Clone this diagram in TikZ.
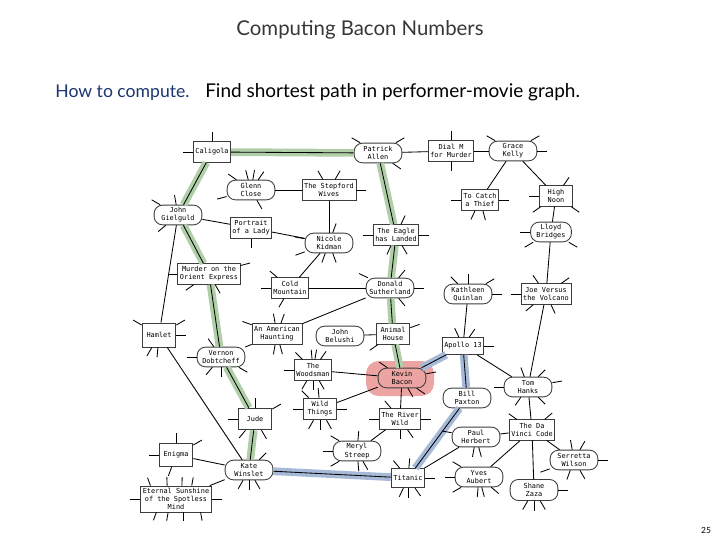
\documentclass[tikz,border=0pt]{standalone}
\usepackage{fontspec}
\newfontfamily\headfont{Lato}
\newfontfamily\boxfont{DejaVu Sans Mono}
\definecolor{pathgreen}{RGB}{176,206,168}
\definecolor{pathblue}{RGB}{166,186,216}
\definecolor{halopink}{RGB}{236,164,162}
\definecolor{boxgray}{RGB}{60,60,60}
\definecolor{titlegray}{RGB}{55,55,55}
\definecolor{hownavy}{RGB}{28,52,112}
\newcommand{\stubs}[2]{\foreach \a in {#2}{\draw[stub] (#1.\a) -- ++(\a:7pt);}}

\begin{document}
\begin{tikzpicture}[x=0.025cm, y=-0.025cm, line width=0.6pt,
  movie/.style={draw=boxgray, fill=white, line width=0.6pt, align=center, inner xsep=1.5pt, inner ysep=1.5pt,
    minimum height=14.5pt, minimum width=24pt, text=black, font=\boxfont\fontsize{4.9}{5.8}\selectfont},
  actor/.style={movie, rounded corners=6pt, minimum width=34pt, minimum height=14pt},
  link/.style={draw=black},
  stub/.style={draw=black, line width=0.6pt},
  greenpath/.style={draw=pathgreen, line width=5.5pt},
  bluepath/.style={draw=pathblue, line width=5.5pt}]
\useasboundingbox (0,0) rectangle (720,540);
\node [anchor=base, font=\headfont\fontsize{14.5}{18}\selectfont, text=titlegray] (title) at (360,35) {Computing Bacon Numbers};
\node [anchor=base west, inner sep=0pt, font=\headfont\fontsize{12.5}{15}\selectfont] (task) at (55,97)
  {\textcolor{hownavy}{How to compute.}\hspace{7pt} {\fontsize{13.5}{15}\selectfont Find shortest path in performer-movie graph.}};
\node [font=\headfont\fontsize{6}{7}\selectfont] (page) at (706,530) {25};

\fill [halopink, rounded corners=9pt] (366,361) rectangle (434,396);

\node [movie] (cal) at (212,152) {Caligola};
\node [actor] (pallen) at (378,153) {Patrick\\Allen};
\node [movie] (dialm) at (451,151) {Dial M\\for Murder};
\node [actor] (gkelly) at (513,151) {Grace\\Kelly};
\node [actor] (gclose) at (251,190) {Glenn\\Close};
\node [movie] (stepford) at (329,190) {The Stepford\\Wives};
\node [movie] (tcatch) at (480,200) {To Catch\\a Thief};
\node [movie] (hnoon) at (556,196) {High\\Noon};
\node [actor, minimum width=29pt] (lbridges) at (551,232) {Lloyd\\Bridges};
\node [actor] (gielguld) at (178,215) {John\\Gielguld};
\node [movie] (portrait) at (251,228) {Portrait\\of a Lady};
\node [actor] (nkidman) at (329,243) {Nicole\\Kidman};
\node [movie] (eagle) at (396,235) {The Eagle\\has Landed};
\node [movie] (orient) at (209,274) {Murder on the\\Orient Express};
\node [movie] (coldm) at (290,288) {Cold\\Mountain};
\node [actor] (dsuth) at (390,288) {Donald\\Sutherland};
\node [actor] (kquinlan) at (468,294) {Kathleen\\Quinlan};
\node [movie] (joev) at (546,294) {Joe Versus\\the Volcano};
\node [movie, minimum height=17pt] (hamlet) at (159,335) {Hamlet};
\node [movie] (haunting) at (277,334) {An American\\Haunting};
\node [actor] (belushi) at (340,336) {John\\Belushi};
\node [movie] (animal) at (393,334) {Animal\\House};
\node [movie, minimum height=12pt] (apollo) at (463,346) {Apollo 13};
\node [actor] (vernon) at (221,357) {Vernon\\Dobtcheff};
\node [movie] (woodsman) at (313,370) {The\\Woodsman};
\node [actor, fill=none] (bacon) at (402,378) {Kevin\\Bacon};
\node [actor] (thanks) at (528,387) {Tom\\Hanks};
\node [actor] (bpaxton) at (467,398) {Bill\\Paxton};
\node [movie, minimum height=15.5pt] (jude) at (255,419) {Jude};
\node [movie, minimum height=15.5pt] (wild) at (320,409) {Wild\\Things};
\node [movie] (river) at (400,419) {The River\\Wild};
\node [actor] (pherbert) at (476,437) {Paul\\Herbert};
\node [movie] (davinci) at (532,430) {The Da\\Vinci Code};
\node [actor] (mstreep) at (357,451) {Meryl\\Streep};
\node [movie, minimum height=16pt] (enigma) at (176,455) {Enigma};
\node [actor] (swilson) at (574,460) {Serretta\\Wilson};
\node [actor] (kwinslet) at (249,470) {Kate\\Winslet};
\node [movie, minimum height=13.5pt] (titanic) at (408,478) {Titanic};
\node [actor] (yaubert) at (479,477) {Yves\\Aubert};
\node [actor, minimum height=15pt] (szaza) at (534,490) {Shane\\Zaza};
\node [movie] (eternal) at (176,499) {Eternal Sunshine\\of the Spotless\\Mind};

\foreach \u/\v in {pallen/cal, cal/gielguld, gielguld/orient, orient/vernon, vernon/jude, jude/kwinslet,
  pallen/eagle, eagle/dsuth, dsuth/animal, animal/bacon}
  \draw [greenpath] (\u) -- (\v);
\foreach \u/\v in {kwinslet/titanic, titanic/bpaxton, bpaxton/apollo, apollo/bacon}
  \draw [bluepath] (\u) -- (\v);

\foreach \u/\v in {pallen/cal, cal/gielguld, gielguld/orient, orient/vernon, vernon/jude, jude/kwinslet,
  pallen/eagle, eagle/dsuth, dsuth/animal, animal/bacon,
  kwinslet/titanic, titanic/bpaxton, bpaxton/apollo, apollo/bacon,
  pallen/dialm, dialm/gkelly, gkelly/tcatch, gkelly/hnoon, hnoon/lbridges, lbridges/joev, joev/thanks,
  gclose/stepford, stepford/nkidman, gielguld/portrait, portrait/nkidman, nkidman/coldm, coldm/dsuth,
  dsuth/haunting, vernon/haunting, kquinlan/apollo, apollo/thanks, thanks/davinci, davinci/pherbert,
  davinci/swilson, davinci/yaubert, davinci/szaza, belushi/animal, woodsman/bacon, wild/bacon,
  bacon/river, river/mstreep, gielguld/hamlet, hamlet/kwinslet, enigma/kwinslet, eternal/kwinslet,
  titanic/pherbert}
  \draw [link] (\u) -- (\v);

\stubs{cal}{90,180}
\stubs{pallen}{150,30,-35}
\stubs{dialm}{90,-90}
\stubs{gkelly}{150,30,0}
\stubs{gclose}{145,105,80,55,195,-60}
\stubs{stepford}{120,60,0}
\stubs{nkidman}{170,200,70,-110,-70}
\stubs{eagle}{180,0,-115,-60,65}
\stubs{tcatch}{180,0,-115,-75}
\stubs{hnoon}{180,55,215,-35}
\stubs{lbridges}{180,210,-30}
\stubs{gielguld}{150,100,220}
\stubs{portrait}{-90}
\stubs{orient}{180,15,215,-60}
\stubs{coldm}{180,140,-120}
\stubs{dsuth}{155,50,0,-50}
\stubs{kquinlan}{90,135,30,0}
\stubs{joev}{180,125,35,220,-65}
\stubs{hamlet}{150,0,30,-120,-95}
\stubs{vernon}{180,125,230,-90,-30}
\stubs{haunting}{160,100,70,-100,-75}
\stubs{animal}{215,20}
\stubs{apollo}{115,55,0}
\stubs{woodsman}{180,135,95,80,55,-120,-90,-60}
\stubs{bacon}{145,10,-35,-60}
\stubs{thanks}{180,10,-45,235,110,45}
\stubs{jude}{180,90,30,-130,-60}
\stubs{wild}{180,135,95,0,-120,-90,-60}
\stubs{river}{180,130,0,-55,-90}
\stubs{pherbert}{-100,-75,170}
\stubs{davinci}{145,40}
\stubs{mstreep}{180,150,85,210,-85,-60}
\stubs{enigma}{180,90,30,-110}
\stubs{swilson}{100,60,0,200,-110,-60}
\stubs{kwinslet}{45,-120,-90,-60}
\stubs{titanic}{130,85,0,-55,-90,-115}
\stubs{yaubert}{180,150,210,-95,-75,-40}
\stubs{szaza}{0,-120,-90,-60}
\stubs{eternal}{180,0}
\foreach \s/\d in {-26/110, -9/92, 6/88, 16/80}
  \draw [stub] ([xshift=\s*0.7pt]eternal.north) -- ++(\d:6pt);
\foreach \s/\d in {-20/-110, -8/-100, 8/-90, 25/-80}
  \draw [stub] ([xshift=\s*0.7pt]eternal.south) -- ++(\d:6pt);
\end{tikzpicture}
\end{document}
